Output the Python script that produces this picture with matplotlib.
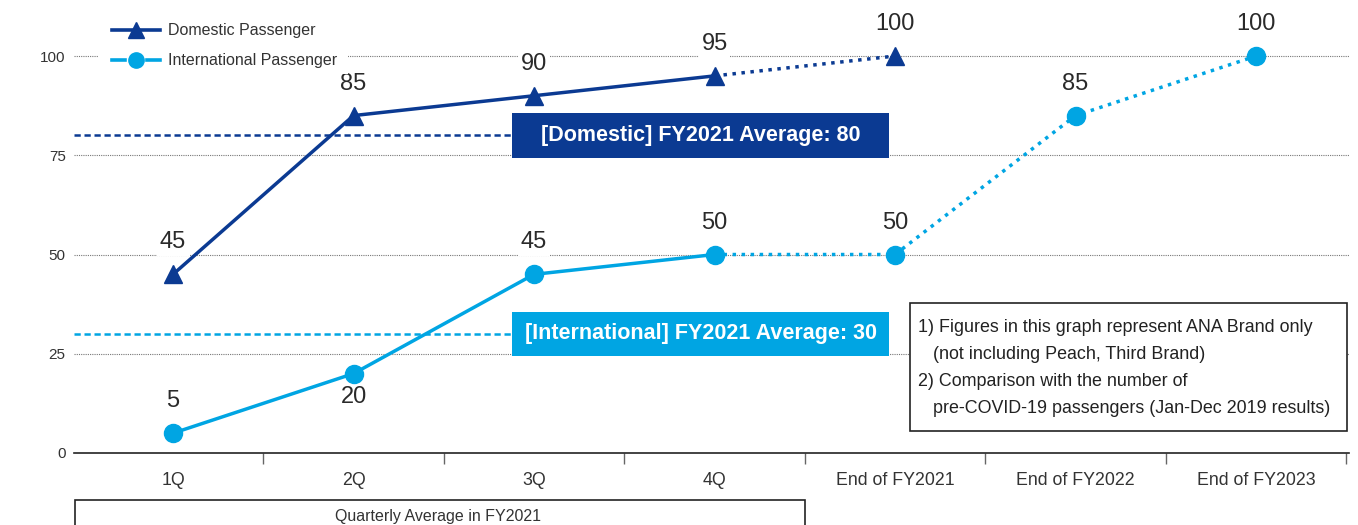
import matplotlib
matplotlib.use("Agg")
import matplotlib.pyplot as plt
from matplotlib.patches import Rectangle
from matplotlib.lines import Line2D

plt.rcParams['font.family'] = ['Liberation Sans', 'DejaVu Sans']

# ---------------- data ----------------
categories = ["1Q", "2Q", "3Q", "4Q", "End of FY2021", "End of FY2022", "End of FY2023"]
domestic = [45, 85, 90, 95, 100]          # first 5 categories
international = [5, 20, 45, 50, 50, 85, 100]
n_actual = 4                               # quarters (solid); rest are targets (dotted)
domestic_avg = 80
international_avg = 30
yticks = [0, 25, 50, 75, 100]
notes = ["1) Figures in this graph represent ANA Brand only",
         "   (not including Peach, Third Brand)",
         "2) Comparison with the number of",
         "   pre-COVID-19 passengers (Jan-Dec 2019 results)"]
group_label = "Quarterly Average in FY2021"

DOM = '#0b3a92'
INT = '#00a5e3'
TXT = '#2a2a2a'

W, H = 1358, 525
fig = plt.figure(figsize=(W / 100, H / 100), dpi=100)
def fx(px): return px / W
def fy(py): return 1 - py / H

ax = fig.add_axes([fx(74), fy(453), (1349 - 74) / W, 444.6 / H])
ax.set_xlim(-0.5485, 6.515)
ax.set_ylim(0, 112)

# grid
for v in yticks[1:]:
    ax.axhline(v, color='#777777', lw=0.8, ls=(0, (1, 1)), zorder=0.5)

for s in ['left', 'right', 'top']:
    ax.spines[s].set_visible(False)
ax.spines['bottom'].set_color('#222222')
ax.spines['bottom'].set_linewidth(1.2)
ax.spines['bottom'].set_zorder(4)

ax.set_yticks(yticks)
ax.set_yticklabels([str(v) for v in yticks], fontsize=11, color='#333333')
ax.tick_params(axis='y', length=0, pad=6)

xs = list(range(len(categories)))
ax.set_xticks(xs)
ax.set_xticklabels(categories, fontsize=12.8, color='#333333')
ax.tick_params(axis='x', which='major', length=0, pad=14)
ax.set_xticks([x + 0.5 for x in xs], minor=True)
ax.tick_params(axis='x', which='minor', length=8, width=1, color='#666666', direction='out')

# average lines and boxes
bx0, bx1 = 1.878, 3.967
for avg, col, label in [(domestic_avg, DOM, "[Domestic] FY2021 Average: %d" % domestic_avg),
                        (international_avg, INT, "[International] FY2021 Average: %d" % international_avg)]:
    ax.plot([-0.5485, bx0], [avg, avg], color=col, lw=1.8, ls=(0, (2.5, 1.5)), zorder=2)
    ax.add_patch(Rectangle((bx0, avg - 5.6), bx1 - bx0, 11.2, facecolor=col,
                           edgecolor='none', zorder=5))
    ax.text((bx0 + bx1) / 2, avg, label, color='white', fontsize=15.5, fontweight='bold',
            ha='center', va='center', zorder=6)

# series
dx = xs[:len(domestic)]
ax.plot(dx[:n_actual], domestic[:n_actual], color=DOM, lw=2.5, zorder=3)
ax.plot(dx[n_actual - 1:], domestic[n_actual - 1:], color=DOM, lw=2.5,
        ls=(0, (1, 1.6)), zorder=3)
ax.plot(dx, domestic, ls='none', marker='^', ms=13, color=DOM, zorder=4)

ax.plot(xs[:n_actual], international[:n_actual], color=INT, lw=2.5, zorder=3)
ax.plot(xs[n_actual - 1:], international[n_actual - 1:], color=INT, lw=2.5,
        ls=(0, (1, 1.6)), zorder=3)
ax.plot(xs, international, ls='none', marker='o', ms=13, color=INT, zorder=4)

bb = dict(facecolor='white', edgecolor='none', pad=2)
for x, v in zip(dx, domestic):
    ax.annotate(str(v), (x, v), xytext=(0, 23), textcoords='offset points',
                ha='center', va='center', fontsize=17, color=TXT, bbox=bb, zorder=1.5)
for i, (x, v) in enumerate(zip(xs, international)):
    off = -17 if i == 1 else 23
    ax.annotate(str(v), (x, v), xytext=(0, off), textcoords='offset points',
                ha='center', va='center', fontsize=17, color=TXT, bbox=bb, zorder=1.5)

# legend (drawn manually)
fig.add_artist(Rectangle((fx(98), fy(74)), fx(250), 58 / H, transform=fig.transFigure,
                         facecolor='white', edgecolor='none', zorder=5))
fig.add_artist(Line2D([fx(112), fx(160)], [fy(30), fy(30)], color=DOM, lw=2.6, zorder=6))
fig.add_artist(Line2D([fx(136)], [fy(30)], marker='^', ms=12, color=DOM, zorder=7, ls='none'))
fig.add_artist(Line2D([fx(112), fx(125)], [fy(60), fy(60)], color=INT, lw=2.6, zorder=6))
fig.add_artist(Line2D([fx(147), fx(160)], [fy(60), fy(60)], color=INT, lw=2.6, zorder=6))
fig.add_artist(Line2D([fx(136)], [fy(60)], marker='o', ms=11, color=INT, zorder=7, ls='none'))
fig.text(fx(168), fy(30), "Domestic Passenger", fontsize=11.5, color='#333333',
         va='center', ha='left', zorder=7)
fig.text(fx(168), fy(60), "International Passenger", fontsize=11.5, color='#333333',
         va='center', ha='left', zorder=7)

# note box
fig.add_artist(Rectangle((fx(910), fy(431)), fx(1347 - 910), 128 / H, transform=fig.transFigure,
                         facecolor='white', edgecolor='#222222', lw=1.2, zorder=8))
for i, line in enumerate(notes):
    fig.text(fx(918), fy(328 + i * 26.7), line, fontsize=12.9, color='#222222',
             va='center', ha='left', zorder=9)

# group box at bottom
fig.add_artist(Rectangle((fx(75), fy(540)), fx(805 - 75), 40 / H, transform=fig.transFigure,
                         facecolor='none', edgecolor='#222222', lw=1.2, zorder=8))
fig.text(fx(438), fy(517), group_label, fontsize=11.5, color='#333333',
         ha='center', va='center', zorder=9)

fig.savefig("out.png", dpi=100)
